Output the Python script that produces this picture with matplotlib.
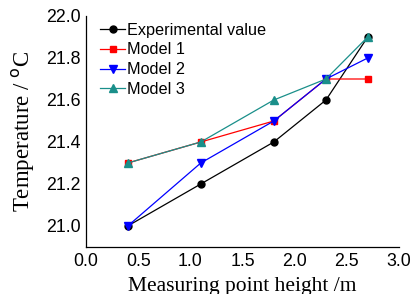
import matplotlib.pyplot as plt

# measuring point heights (m) and temperatures (°C)
height = [0.4, 1.1, 1.8, 2.3, 2.7]
experimental = [21.0, 21.2, 21.4, 21.6, 21.9]
model1 = [21.3, 21.4, 21.5, 21.7, 21.7]
model2 = [21.0, 21.3, 21.5, 21.7, 21.8]
model3 = [21.3, 21.4, 21.6, 21.7, 21.9]

plt.rcParams['font.family'] = ['Liberation Sans', 'DejaVu Sans']

fig = plt.figure(figsize=(4.11, 2.94), dpi=100)
ax = fig.add_axes([86 / 411, 1 - 247 / 294, (399 - 86) / 411, (247 - 16) / 294])

ax.plot(height, experimental, color='black', marker='o', ms=5, lw=0.9, label='Experimental value')
ax.plot(height, model1, color='red', marker='s', ms=5, lw=0.9, label='Model 1')
ax.plot(height, model2, color='blue', marker='v', ms=5.5, lw=0.9, label='Model 2')
ax.plot(height, model3, color='#1a8f8a', marker='^', ms=5.5, lw=0.9, label='Model 3')

ax.set_xlim(0, 3.0)
ax.set_ylim(20.9, 22.0)
ax.set_xticks([0.0, 0.5, 1.0, 1.5, 2.0, 2.5, 3.0])
ax.set_yticks([21.0, 21.2, 21.4, 21.6, 21.8, 22.0])
ax.tick_params(length=0, labelsize=12.8, pad=4)

for s in ['top', 'right']:
    ax.spines[s].set_visible(False)
for s in ['left', 'bottom']:
    ax.spines[s].set_linewidth(0.9)

ax.set_xlabel('Measuring point height /m', family='Liberation Serif', fontsize=15.5, labelpad=5.5)
ax.set_ylabel('Temperature / $^\\mathrm{o}$C', family='Liberation Serif', fontsize=16.5, labelpad=6)

ax.legend(loc='upper left', bbox_to_anchor=(0.025, 1.0), frameon=False, fontsize=11.7,
          handlelength=1.5, handletextpad=0.15, labelspacing=0.3, borderaxespad=0)

fig.savefig('out.png', dpi=100)
